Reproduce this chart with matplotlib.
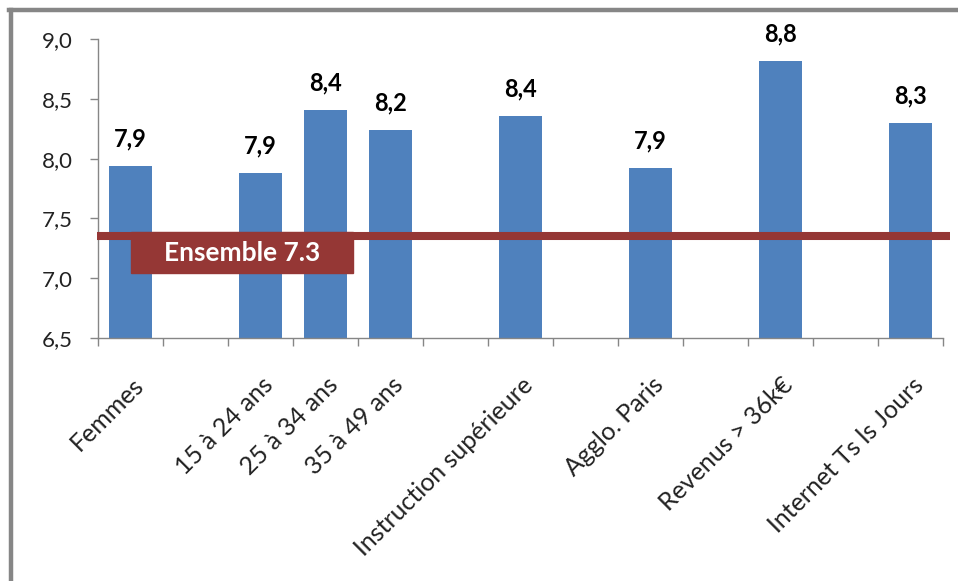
import numpy as np
import matplotlib.pyplot as plt
import matplotlib.transforms as mtransforms
from matplotlib.patches import Rectangle

plt.rcParams['font.family'] = ['Lato', 'DejaVu Sans']

categories = ['Femmes', '', '15 à 24 ans', '25 à 34 ans', '35 à 49 ans', '',
              'Instruction supérieure', '', 'Agglo. Paris', '', 'Revenus > 36k€',
              '', 'Internet Ts ls Jours']
values = [7.94, np.nan, 7.88, 8.41, 8.24, np.nan, 8.36, np.nan, 7.92, np.nan,
          8.82, np.nan, 8.30]
value_labels = ['7,9', '', '7,9', '8,4', '8,2', '', '8,4', '', '7,9', '', '8,8',
                '', '8,3']
ensemble = 7.35
ensemble_label = 'Ensemble 7.3'
yticks = [6.5, 7.0, 7.5, 8.0, 8.5, 9.0]

bar_color = '#4F81BD'
red = '#953735'
grey = '#868686'

fig = plt.figure(figsize=(9.58, 5.81), dpi=100)
ax = fig.add_axes([98 / 958, 1 - 338 / 581, 845 / 958, 299 / 581])

x = np.arange(len(categories))
ax.bar(x, np.nan_to_num(values, nan=0), width=0.66, color=bar_color, zorder=2)

for xi, v, lab in zip(x, values, value_labels):
    if lab:
        ax.annotate(lab, (xi, v), xytext=(0, 14), textcoords='offset points',
                    ha='center', va='baseline', fontsize=17, fontweight='bold',
                    color='black', zorder=5)

# average line + tag
ax.plot([-0.52, 12.6], [ensemble, ensemble], color=red, lw=5.8,
        solid_capstyle='butt', clip_on=False, zorder=3)
box_top = ensemble + 0.035
box_bot = ensemble - 0.307
ax.add_patch(Rectangle((0.0, box_bot), 3.42, box_top - box_bot, color=red,
                       zorder=4))
ax.text(1.71, (box_top + box_bot) / 2, ensemble_label, color='white',
        fontsize=19, fontweight='bold', ha='center', va='center', zorder=5)

ax.set_xlim(-0.5, len(categories) - 0.5)
ax.set_ylim(yticks[0], yticks[-1])
ax.set_yticks(yticks)
ax.set_yticklabels([f'{t:.1f}'.replace('.', ',') for t in yticks],
                   fontsize=16, color='#222222')
ax.tick_params(axis='y', length=6, width=1, color=grey, pad=12)

ax.set_xticks(x)
ax.set_xticklabels(categories, fontsize=18, rotation=45, ha='right',
                   va='center', rotation_mode='anchor', color='#222222')
ax.tick_params(axis='x', which='major', length=0, pad=31)
ax.set_xticks(np.arange(len(categories) + 1) - 0.5, minor=True)
ax.tick_params(axis='x', which='minor', length=6, width=1, color=grey)
shift = mtransforms.ScaledTranslation(9 / 100, 0, fig.dpi_scale_trans)
for lbl in ax.get_xticklabels():
    lbl.set_transform(lbl.get_transform() + shift)

for side in ['top', 'right']:
    ax.spines[side].set_visible(False)
for side in ['left', 'bottom']:
    ax.spines[side].set_color(grey)
    ax.spines[side].set_linewidth(1)

# outer chart frame (cut off at right and bottom)
fig.add_artist(plt.Line2D([10.5 / 958, 10.5 / 958], [0, 1 - 9.5 / 581],
                          transform=fig.transFigure, color=grey, lw=3.2))
fig.add_artist(plt.Line2D([9 / 958, 1], [1 - 9.5 / 581, 1 - 9.5 / 581],
                          transform=fig.transFigure, color=grey, lw=3.2))

fig.savefig('out.png', dpi=100)
